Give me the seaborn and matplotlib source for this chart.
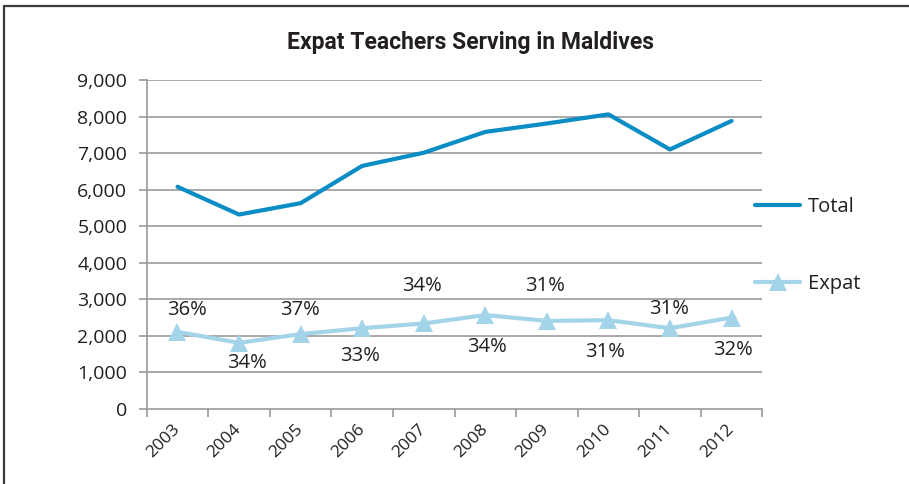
import matplotlib
matplotlib.use("Agg")
import matplotlib.pyplot as plt
import seaborn as sns
import pandas as pd
from matplotlib.lines import Line2D

years = ["2003", "2004", "2005", "2006", "2007", "2008", "2009", "2010", "2011", "2012"]
total = [6080, 5320, 5630, 6650, 7010, 7580, 7810, 8060, 7100, 7880]
expat = [2110, 1810, 2050, 2210, 2340, 2570, 2410, 2430, 2210, 2500]
pct_labels = ["36%", "34%", "37%", "33%", "34%", "34%", "31%", "31%", "31%", "32%"]
# label offsets in pixels (dx, dy) relative to the expat point
label_offsets = [(9, 22), (8, -20), (-1, 24), (-2, -28), (-2, 37), (2, -32), (-2, 35), (-3, -32), (-1, 19), (1, -32)]

sns.set_theme(style="white")
plt.rcParams["font.family"] = ["Open Sans", "DejaVu Sans"]

TXT = "#231f20"
C_TOTAL = "#0a8cc4"
C_EXPAT = "#a4d4ea"
GRID = "#9a9a9a"

fig = plt.figure(figsize=(9.09, 4.84), dpi=100)
ax = fig.add_axes([146.7 / 909, 1 - 409 / 484, (762.3 - 146.7) / 909, (409 - 80) / 484])

df = pd.DataFrame({"x": range(len(years)), "Total": total, "Expat": expat})
sns.lineplot(data=df, x="x", y="Total", ax=ax, color=C_TOTAL, lw=3.0, legend=False)
sns.lineplot(data=df, x="x", y="Expat", ax=ax, color=C_EXPAT, lw=3.0, marker="^",
             markersize=13.5, markeredgecolor=C_EXPAT, markeredgewidth=0, legend=False)

ax.set_xlim(-0.5, len(years) - 0.5)
ax.set_ylim(0, 9000)
ax.set_xlabel("")
ax.set_ylabel("")

yt = list(range(0, 9001, 1000))
ax.set_yticks(yt)
ax.set_yticklabels([f"{v:,}" for v in yt], fontsize=14, color=TXT)
for v in yt[1:]:
    ax.axhline(v, color=GRID, lw=1.2, zorder=0)

ax.set_xticks([i - 0.5 for i in range(len(years) + 1)])
ax.set_xticklabels([])
ax.set_xticks(range(len(years)), minor=True)
ax.set_xticklabels(years, minor=True, rotation=45, ha="right", va="center",
                   rotation_mode="anchor", fontsize=12.5, color=TXT)
ax.tick_params(axis="x", which="major", length=6, width=1.2, color=GRID, direction="out", bottom=True)
ax.tick_params(axis="x", which="minor", length=0, pad=13, bottom=True)
ax.tick_params(axis="y", length=6, width=1.2, color=GRID, direction="out", left=True, pad=8)

for s in ["top", "right"]:
    ax.spines[s].set_visible(False)
for s in ["left", "bottom"]:
    ax.spines[s].set_color(GRID)
    ax.spines[s].set_linewidth(1.2)

for i, (lab, (dx, dy)) in enumerate(zip(pct_labels, label_offsets)):
    ax.annotate(lab, (i, expat[i]), xytext=(dx, dy), textcoords="offset pixels",
                ha="center", va="center", fontsize=14.5, color=TXT)

handles = [Line2D([], [], color=C_TOTAL, lw=3.0),
           Line2D([], [], color=C_EXPAT, lw=3.0, marker="^", markersize=13.5, markeredgewidth=0)]
leg = fig.legend(handles, ["Total", "Expat"], loc="upper left",
                 bbox_to_anchor=(755 / 909, 1 - 197 / 484), frameon=False,
                 fontsize=14.5, handlelength=2.25, handletextpad=0.4, labelspacing=2.85,
                 borderpad=0, borderaxespad=0)
for t in leg.get_texts():
    t.set_color(TXT)

fig.text(470.5 / 909, 1 - 42 / 484, "Expat Teachers Serving in Maldives",
         ha="center", va="center", fontsize=16.5, fontweight="bold", color=TXT,
         family=["Roboto", "DejaVu Sans"])

fig.add_artist(Line2D([4 / 909, 4 / 909], [0, 1 - 6 / 484], transform=fig.transFigure,
                      color="#3a3a3a", lw=1.6))
fig.add_artist(Line2D([4 / 909, 1], [1 - 6 / 484, 1 - 6 / 484], transform=fig.transFigure,
                      color="#3a3a3a", lw=1.6))

fig.savefig("out.png", dpi=100)
